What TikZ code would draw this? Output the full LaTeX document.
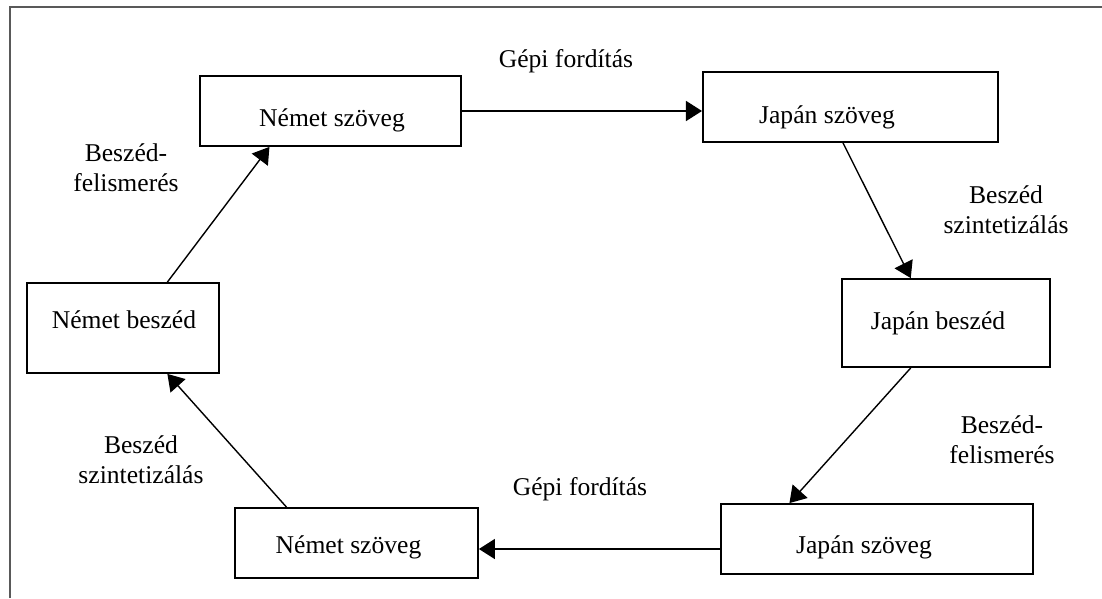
\documentclass[tikz,border=0pt]{standalone}
\usepackage{fontspec}
\setmainfont{Liberation Serif}
\usetikzlibrary{arrows.meta,calc}

\begin{document}
\begin{tikzpicture}[font=\fontsize{18.2}{21.3}\selectfont]
% Define node styles
\tikzstyle{block} = [rectangle, draw, line width=1.3pt, inner sep=0pt]
\tikzstyle{conn} = [line width=1pt, -{Triangle[length=0.4cm,width=0.5cm]}]
\tikzstyle{txt} = [anchor=base, inner sep=0pt, align=center]

\useasboundingbox (0,0) rectangle (27.55,-14.95);

% Frame
\draw[black!65, line width=1.4pt] (0.25,-14.95) -- (0.25,-0.175) -- (27.55,-0.175);

% Draw boxes
\node[block, minimum width=6.525cm, minimum height=1.75cm] (nsz1) at (8.26,-2.775) {};
\node[block, minimum width=7.375cm, minimum height=1.75cm] (jsz1) at (21.26,-2.675) {};
\node[block, minimum width=5.2cm, minimum height=2.2cm] (jbe) at (23.65,-8.075) {};
\node[block, minimum width=7.8cm, minimum height=1.75cm] (jsz2) at (21.925,-13.475) {};
\node[block, minimum width=6.075cm, minimum height=1.75cm] (nsz2) at (8.9125,-13.575) {};
\node[block, minimum width=4.8cm, minimum height=2.25cm] (nbe) at (3.075,-8.2) {};

% Box texts
\node[txt] (nsz1t) at (8.3,-3.15) {Német szöveg};
\node[txt] (jsz1t) at (20.675,-3.075) {Japán szöveg};
\node[txt] (jbet) at (23.45,-8.225) {Japán beszéd};
\node[txt] (jsz2t) at (21.6,-13.825) {Japán szöveg};
\node[txt] (nsz2t) at (8.7125,-13.825) {Német szöveg};
\node[txt] (nbet) at (3.1,-8.2) {Német beszéd};

% Edge labels (base = last line)
\node[txt] (gf1) at (14.15,-1.675) {Gépi fordítás};
\node[txt] (bsz1) at (25.15,-5.825) {Beszéd\\szintetizálás};
\node[txt] (bf1) at (25.05,-11.575) {Beszéd-\\felismerés};
\node[txt] (gf2) at (14.5,-12.375) {Gépi fordítás};
\node[txt] (bsz2) at (3.525,-12.075) {Beszéd\\szintetizálás};
\node[txt] (bf2) at (3.15,-4.775) {Beszéd-\\felismerés};

% Draw edges
\coordinate (d) at ($(jsz2.west)+(0,-0.25)$);
\draw[conn] (nsz1.east) -- (nsz1.east -| jsz1.west);
\draw[conn] ($(jsz1.south west)!0.475!(jsz1.south east)$) -- ($(jbe.north west)!0.332!(jbe.north east)$);
\draw[conn] ($(jbe.south west)!0.332!(jbe.south east)$) -- ($(jsz2.north west)!0.221!(jsz2.north east)$);
\draw[conn] (d) -- (d -| nsz2.east);
\draw[conn] ($(nsz2.north west)!0.214!(nsz2.north east)$) -- ($(nbe.south west)!0.729!(nbe.south east)$);
\draw[conn] ($(nbe.north west)!0.729!(nbe.north east)$) -- ($(nsz1.south west)!0.268!(nsz1.south east)$);
\end{tikzpicture}
\end{document}
